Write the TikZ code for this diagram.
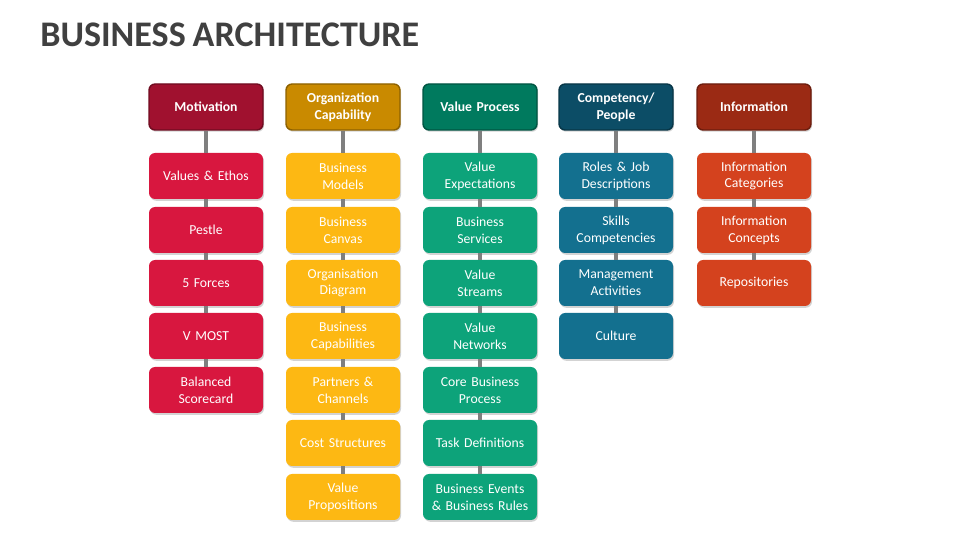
\documentclass[tikz,border=0pt]{standalone}
\usepackage{fontspec}
\setmainfont{Carlito}[WordSpace=0.85]
\usepackage{tikz}
\usetikzlibrary{shadows}

\definecolor{motH}{HTML}{A0112F}
\definecolor{motC}{HTML}{D8173F}
\definecolor{orgH}{HTML}{C98A00}
\definecolor{orgC}{HTML}{FDB813}
\definecolor{valH}{HTML}{007A5E}
\definecolor{valC}{HTML}{0DA37A}
\definecolor{comH}{HTML}{0C4D66}
\definecolor{comC}{HTML}{13708F}
\definecolor{infH}{HTML}{9B2A14}
\definecolor{infC}{HTML}{D4421E}
\definecolor{titleGray}{HTML}{404040}
\definecolor{stem}{HTML}{7F7F7F}

\begin{document}
\begin{tikzpicture}[
  box/.style = {rounded corners=3.5pt, minimum width=2.28cm, minimum height=0.92cm,
                text width=2.2cm, inner xsep=0.04cm, align=center, text=white, font=\fontsize{7.8}{9.6}\selectfont,
                drop shadow={shadow xshift=0.6pt, shadow yshift=-1pt, opacity=0.35}},
  head/.style = {box, draw=#1!70!black, line width=0.8pt, fill=#1, font=\bfseries\fontsize{7.8}{9.6}\selectfont},
  item/.style = {box, fill=#1},
  link/.style = {draw=stem, line width=2.3pt}
]
\useasboundingbox (0,0) rectangle (19.2,10.8);

\node[anchor=west, inner sep=0pt, text=titleGray, font=\bfseries\fontsize{20.5}{24}\selectfont] (title) at (0.8,10.1) {BUSINESS ARCHITECTURE};

% Motivation
\node[head=motH] (m0) at (4.12,8.66) {Motivation};
\node[item=motC] (m1) at (4.12,7.28) {Values \& Ethos};
\node[item=motC] (m2) at (4.12,6.2)  {Pestle};
\node[item=motC] (m3) at (4.12,5.14) {5 Forces};
\node[item=motC] (m4) at (4.12,4.08) {V MOST};
\node[item=motC] (m5) at (4.12,3.0)  {Balanced\\Scorecard};

% Organization capability
\node[head=orgH] (o0) at (6.86,8.66) {Organization\\Capability};
\node[item=orgC] (o1) at (6.86,7.28) {Business\\Models};
\node[item=orgC] (o2) at (6.86,6.2)  {Business\\Canvas};
\node[item=orgC] (o3) at (6.86,5.14) {Organisation\\Diagram};
\node[item=orgC] (o4) at (6.86,4.08) {Business\\Capabilities};
\node[item=orgC] (o5) at (6.86,3.0)  {Partners \&\\Channels};
\node[item=orgC] (o6) at (6.86,1.94) {Cost Structures};
\node[item=orgC] (o7) at (6.86,0.86) {Value\\Propositions};

% Value process
\node[head=valH] (v0) at (9.6,8.66) {Value Process};
\node[item=valC] (v1) at (9.6,7.28) {Value\\Expectations};
\node[item=valC] (v2) at (9.6,6.2)  {Business\\Services};
\node[item=valC] (v3) at (9.6,5.14) {Value\\Streams};
\node[item=valC] (v4) at (9.6,4.08) {Value\\Networks};
\node[item=valC] (v5) at (9.6,3.0)  {Core Business\\Process};
\node[item=valC] (v6) at (9.6,1.94) {Task Definitions};
\node[item=valC] (v7) at (9.6,0.86) {Business Events\\\& Business Rules};

% Competency / people
\node[head=comH] (c0) at (12.32,8.66) {Competency/\\People};
\node[item=comC] (c1) at (12.32,7.28) {Roles \& Job\\Descriptions};
\node[item=comC] (c2) at (12.32,6.2)  {Skills\\Competencies};
\node[item=comC] (c3) at (12.32,5.14) {Management\\Activities};
\node[item=comC] (c4) at (12.32,4.08) {Culture};

% Information
\node[head=infH] (i0) at (15.08,8.66) {Information};
\node[item=infC] (i1) at (15.08,7.28) {Information\\Categories};
\node[item=infC] (i2) at (15.08,6.2)  {Information\\Concepts};
\node[item=infC] (i3) at (15.08,5.14) {Repositories};

% stems
\foreach \a/\b in {m0/m1,m1/m2,m2/m3,m3/m4,m4/m5,
                   o0/o1,o1/o2,o2/o3,o3/o4,o4/o5,o5/o6,o6/o7,
                   v0/v1,v1/v2,v2/v3,v3/v4,v4/v5,v5/v6,v6/v7,
                   c0/c1,c1/c2,c2/c3,c3/c4,
                   i0/i1,i1/i2,i2/i3}
  \draw[link] (\a.south) -- (\b.north);
\end{tikzpicture}
\end{document}
